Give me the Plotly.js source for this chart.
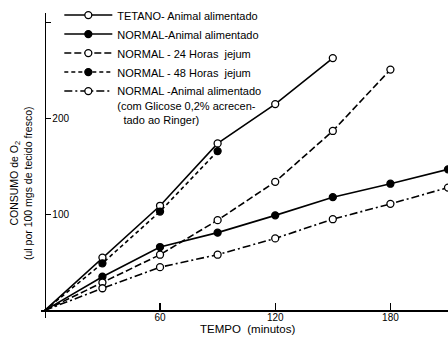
<!DOCTYPE html>
<html>
<head>
<meta charset="utf-8">
<script src="https://cdn.plot.ly/plotly-3.0.1.min.js"></script>
<style>html,body{margin:0;padding:0;background:#fff;}#chart{width:448px;height:337px;}</style>
</head>
<body>
<div id="chart"></div>
<script>
// Data (minutes vs O2 consumption)
const tempo = [0, 30, 60, 90, 120, 150, 180, 210];
const tetanoAlimentado = [0, 55, 109, 174, 215, 263];
const normalAlimentado = [0, 35, 66, 81, 99, 118, 132, 147];
const normal24hJejum = [0, 29, 58, 94, 134, 187, 251];
const normal48hJejum = [0, 49, 103, 166];
const normalGlicose = [0, 23, 45, 58, 75, 95, 111, 128];

const seriesNames = [
  "TETANO- Animal alimentado",
  "NORMAL-Animal alimentado",
  "NORMAL - 24 Horas  jejum",
  "NORMAL - 48 Horas  jejum",
  "NORMAL -Animal alimentado<br>(com Glicose 0,2% acrecen-<br>  tado ao Ringer)"
];
const xTicks = [60, 120, 180];
const yTicks = [100, 200, 300];
const yTickLabels = ["100", "200", ""];

function shown(n) { const s = []; for (let i = 1; i < n; i++) s.push(i); return s; }
function mk(y, name, filled, dash) {
  return {
    x: tempo.slice(0, y.length), y: y, name: name, type: "scatter", mode: "lines+markers",
    cliponaxis: false,
    selectedpoints: shown(y.length),
    unselected: {marker: {opacity: 0}},
    selected: {marker: {opacity: 1}},
    line: {color: "#000", width: 1.6, dash: dash},
    marker: {symbol: "circle", size: 7, color: filled ? "#000" : "#fff",
             line: {color: "#000", width: 1.3}}
  };
}
const traces = [
  mk(tetanoAlimentado, seriesNames[0], false, "solid"),
  mk(normalAlimentado, seriesNames[1], true, "solid"),
  mk(normal24hJejum, seriesNames[2], false, "7px,3px"),
  mk(normal48hJejum, seriesNames[3], true, "4px,3px"),
  mk(normalGlicose, seriesNames[4], false, "8px,3px,2px,3px")
];

const font = {family: "Liberation Sans, Arial, sans-serif", color: "#000"};
const layout = {
  width: 448, height: 337,
  margin: {l: 41, r: 0, t: 13, b: 19},
  paper_bgcolor: "#fff", plot_bgcolor: "#fff",
  font: Object.assign({size: 10}, font),
  showlegend: true,
  legend: {x: 0.045, y: 1.038, xanchor: "left", yanchor: "top", bgcolor: "rgba(0,0,0,0)", valign: "top",
           font: Object.assign({size: 11}, font), itemwidth: 48, tracegroupgap: 0},
  xaxis: {range: [-2, 210], anchor: "free", position: 8 / 318, showline: true, linecolor: "#000", linewidth: 1.5,
          showgrid: false, zeroline: false, tickmode: "array", tickvals: xTicks, ticktext: xTicks.map(String),
          ticks: "inside", ticklen: 7, tickcolor: "#000", tickwidth: 1.2, ticklabelstandoff: -3,
          tickfont: Object.assign({size: 10}, font)},
  yaxis: {range: [-8, 310], anchor: "free", position: 2 / 212, showline: true, linecolor: "#000", linewidth: 1.5,
          showgrid: false, zeroline: false, tickmode: "array", tickvals: yTicks, ticktext: yTickLabels,
          ticks: "inside", ticklen: 5, tickcolor: "#000", tickwidth: 1.2, ticklabelposition: "inside",
          tickfont: Object.assign({size: 10}, font)},
  annotations: [
    {text: "CONSUMO de O<sub>2</sub><br>(ul por 100 mgs de tecido fresco)", textangle: -90,
     xref: "paper", yref: "paper", x: (21 - 41) / 407, y: (318 - 183) / 305, xanchor: "center", yanchor: "middle",
     showarrow: false, font: Object.assign({size: 10.5}, font)},
    {text: "TEMPO  (minutos)", xref: "paper", yref: "paper", x: (247 - 41) / 407, y: (318 - 329) / 305,
     xanchor: "center", yanchor: "middle", showarrow: false, font: Object.assign({size: 11.5}, font)}
  ]
};
Plotly.newPlot("chart", traces, layout, {displayModeBar: false, staticPlot: true});
</script>
</body>
</html>
